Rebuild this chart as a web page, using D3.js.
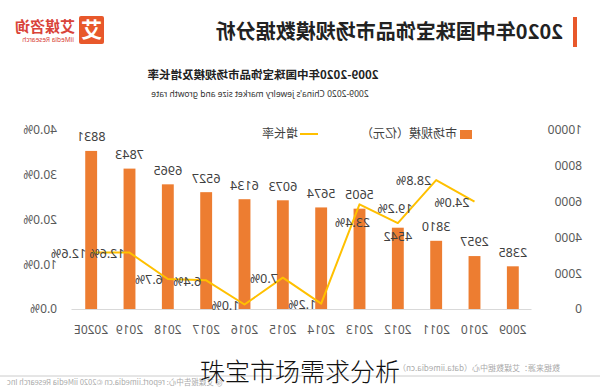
<!DOCTYPE html>
<html>
<head>
<meta charset="utf-8">
<script src="https://cdn.jsdelivr.net/npm/d3@7/dist/d3.min.js"></script>
<style>
  body { margin: 0; background: #fff; }
  svg { display: block; font-family: "Noto Sans", "Noto Sans CJK SC", sans-serif; }
</style>
</head>
<body>
<div id="chart"></div>
<script>
"use strict";

// data (years in normal order, the picture is drawn mirrored)
const years = ["2009", "2010", "2011", "2012", "2013", "2014", "2015", "2016", "2017", "2018", "2019", "2020E"];
const marketSize = [2385, 2957, 3810, 4542, 5605, 5674, 6073, 6134, 6527, 6965, 7843, 8831];
const growthRate = [null, 0.240, 0.288, 0.192, 0.234, 0.012, 0.070, 0.010, 0.064, 0.067, 0.126, 0.126];
const sizeTicks = [0, 2000, 4000, 6000, 8000, 10000];
const rateTicks = [0, 0.1, 0.2, 0.3, 0.4];

const W = 600, H = 390;
const orange = "#ED7D31", gold = "#FFC000", txt = "#404040";

const svg = d3.select("#chart").append("svg").attr("width", W).attr("height", H);
svg.append("rect").attr("width", W).attr("height", H).attr("fill", "#fff");

// everything but the caption is flipped left-right, like the reference
let g = svg.append("g").attr("transform", "translate(" + W + ",0) scale(-1,1)");

let x = d3.scaleBand().domain(years).range([68, 528]).paddingInner(0.69).paddingOuter(0.345),
  y = d3.scaleLinear().domain([0, 10000]).range([309, 130]),
  yr = d3.scaleLinear().domain([0, 0.4]).range([309, 130]),
  cx = function(d) { return x(d) + x.bandwidth() / 2; }
;

// header
g.append("rect").attr("x", 23).attr("y", 17).attr("width", 4).attr("height", 30).attr("fill", "#E8582B");
g.append("text").attr("x", 37).attr("y", 39)
  .attr("font-family", "'Noto Sans CJK SC', sans-serif")
  .attr("font-size", 20).attr("font-weight", "bold").attr("fill", "#222")
  .text("2020年中国珠宝饰品市场规模数据分析");

// logo
g.append("rect").attr("x", 496).attr("y", 16).attr("width", 25).attr("height", 28).attr("rx", 2).attr("fill", "#E8582B");
g.append("text").attr("x", 508.5).attr("y", 37).attr("text-anchor", "middle")
  .attr("font-family", "'Noto Sans CJK SC', sans-serif")
  .attr("font-size", 21).attr("font-weight", "bold").attr("fill", "#fff").text("艾");
g.append("text").attr("x", 525).attr("y", 32)
  .attr("font-family", "'Noto Sans CJK SC', sans-serif")
  .attr("font-size", 15).attr("font-weight", "bold").attr("fill", "#D9443A").text("艾媒咨询");
g.append("text").attr("x", 526).attr("y", 42)
  .attr("font-size", 6.5).attr("fill", "#D9443A").text("iiMedia Research");

// chart titles
g.append("text").attr("x", 337).attr("y", 79).attr("text-anchor", "middle")
  .attr("font-family", "'Noto Sans CJK SC', sans-serif")
  .attr("font-size", 11.5).attr("font-weight", "bold").attr("fill", "#222")
  .text("2009-2020年中国珠宝饰品市场规模及增长率");
g.append("text").attr("x", 340).attr("y", 97).attr("text-anchor", "middle")
  .attr("font-size", 8.5).attr("fill", "#333")
  .text("2009-2020 China's jewelry market size and growth rate");

// legend
g.append("rect").attr("x", 128).attr("y", 130).attr("width", 12).attr("height", 9).attr("fill", orange);
g.append("text").attr("x", 143).attr("y", 134).attr("dy", "0.35em")
  .attr("font-family", "'Noto Sans CJK SC', sans-serif")
  .attr("font-size", 12).attr("fill", txt).text("市场规模（亿元）");
g.append("line").attr("x1", 282).attr("x2", 300).attr("y1", 134).attr("y2", 134)
  .attr("stroke", gold).attr("stroke-width", 2);
g.append("text").attr("x", 302).attr("y", 134).attr("dy", "0.35em")
  .attr("font-family", "'Noto Sans CJK SC', sans-serif")
  .attr("font-size", 12).attr("fill", txt).text("增长率");

// axes
let axL = g.append("g").attr("transform", "translate(18,0)")
  .call(d3.axisLeft(y).tickValues(sizeTicks).tickFormat(d3.format("d")).tickSize(0));
axL.select(".domain").remove();
axL.selectAll("text").attr("x", 0).attr("text-anchor", "start")
  .attr("font-size", 12).attr("font-family", "'Noto Sans', sans-serif").attr("fill", "#595959");

let axR = g.append("g").attr("transform", "translate(543,0)")
  .call(d3.axisRight(yr).tickValues(rateTicks).tickFormat(d3.format(".1%")).tickSize(0));
axR.select(".domain").remove();
axR.selectAll("text").attr("x", 0).attr("text-anchor", "start")
  .attr("font-size", 12).attr("font-family", "'Noto Sans', sans-serif").attr("fill", "#595959");

let axB = g.append("g").attr("transform", "translate(0,309)")
  .call(d3.axisBottom(x).tickSize(0).tickSizeOuter(0).tickPadding(16));
axB.select(".domain").attr("stroke", "#D9D9D9");
axB.selectAll("text").attr("font-size", 12).attr("font-family", "'Noto Sans', sans-serif").attr("fill", "#595959");

// bars
g.selectAll(".bar")
  .data(years)
  .enter().append("rect")
    .attr("class", "bar")
    .attr("x", function(d) { return x(d); })
    .attr("width", x.bandwidth())
    .attr("y", function(d, i) { return y(marketSize[i]); })
    .attr("height", function(d, i) { return y(0) - y(marketSize[i]); })
    .attr("fill", orange);

// growth line
let line = d3.line()
  .defined(function(d, i) { return growthRate[i] != null; })
  .x(function(d) { return cx(d); })
  .y(function(d, i) { return yr(growthRate[i]); });

g.append("path")
  .datum(years)
  .attr("d", line)
  .attr("fill", "none")
  .attr("stroke", gold)
  .attr("stroke-width", 2)
  .attr("stroke-linejoin", "round");

// bar value labels (2012 sits under the line so its label is inside the bar top)
g.selectAll(".barLabel")
  .data(years)
  .enter().append("text")
    .attr("x", function(d) { return cx(d); })
    .attr("y", function(d, i) { return y(marketSize[i]) + (d == "2012" ? 9 : -14); })
    .attr("dy", "0.35em")
    .attr("text-anchor", "middle")
    .attr("font-size", 12.5)
    .attr("fill", txt)
    .text(function(d, i) { return marketSize[i]; });

// growth labels: mostly to the right of the point
let place = { "2012": "above", "2013": "below" };
g.selectAll(".rateLabel")
  .data(years.filter(function(d, i) { return growthRate[i] != null; }))
  .enter().append("text")
    .attr("x", function(d) {
      let p = place[d];
      return p ? cx(d) + (p == "below" ? 7 : 3) : cx(d) + 5;
    })
    .attr("y", function(d) {
      let v = growthRate[years.indexOf(d)], p = place[d];
      return yr(v) + (p == "below" ? 18 : p == "above" ? -14 : 1);
    })
    .attr("dy", "0.35em")
    .attr("text-anchor", function(d) { return place[d] ? "middle" : "start"; })
    .attr("font-size", 12.5)
    .attr("fill", txt)
    .text(function(d) { return d3.format(".1%")(growthRate[years.indexOf(d)]); });

// footer
g.append("line").attr("x1", 0).attr("x2", W).attr("y1", 376).attr("y2", 376)
  .attr("stroke", "#CCCCCC").attr("stroke-width", 1);
g.append("text").attr("x", 40).attr("y", 371)
  .attr("font-family", "'Noto Sans CJK SC', sans-serif")
  .attr("font-size", 8).attr("fill", "#AAAAAA")
  .text("数据来源：艾媒数据中心（data.iimedia.cn）");
g.append("text").attr("x", 593).attr("y", 385).attr("text-anchor", "end")
  .attr("font-family", "'Noto Sans CJK SC', sans-serif")
  .attr("font-size", 7.5).attr("fill", "#AAAAAA")
  .text("@ 艾媒报告中心: report.iimedia.cn   ©2020  iiMedia Research Inc");

// caption, not flipped
svg.append("text").attr("x", 300).attr("y", 372).attr("dy", "0.35em")
  .attr("text-anchor", "middle")
  .attr("font-family", "'Noto Sans CJK SC', sans-serif")
  .attr("font-size", 25).attr("font-weight", 300).attr("fill", "#111")
  .text("珠宝市场需求分析");
</script>
</body>
</html>
